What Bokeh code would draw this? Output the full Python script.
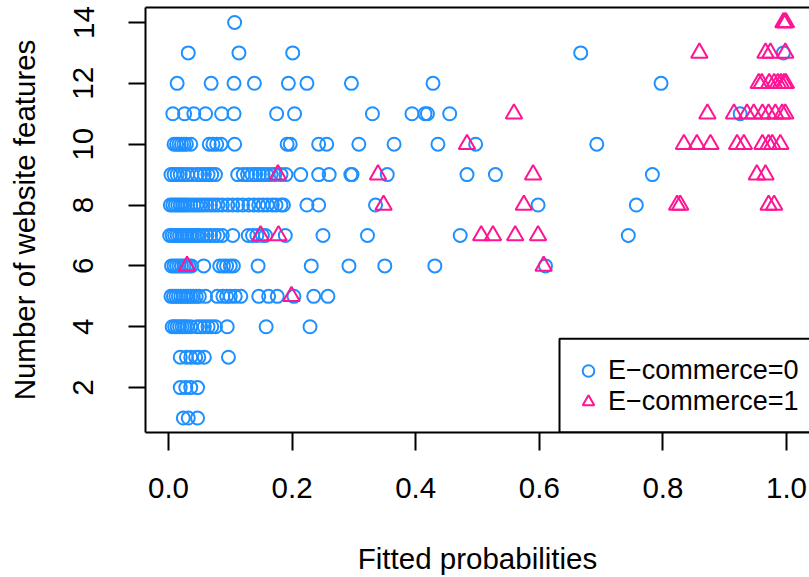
import math
from bokeh.plotting import figure
from bokeh.models import (Range1d, LinearAxis, FixedTicker, PrintfTickFormatter,
                          Legend, LegendItem, BoxAnnotation)
from bokeh.embed import file_html
from bokeh.resources import INLINE

# ---------------- data: fitted probability of websites, by number of features ----------------
# E-commerce = 0  (circles)
ecom0_f14 = [0.107]
ecom0_f13 = [0.032, 0.114, 0.201, 0.667, 0.995]
ecom0_f12 = [0.014, 0.069, 0.106, 0.139, 0.194, 0.224, 0.296, 0.428, 0.797]
ecom0_f11 = [0.007, 0.026, 0.041, 0.060, 0.086, 0.106, 0.175, 0.204, 0.330, 0.394,
             0.415, 0.419, 0.455, 0.925]
ecom0_f10 = [0.009, 0.013, 0.017, 0.021, 0.025, 0.029, 0.036, 0.066, 0.072, 0.078,
             0.085, 0.107, 0.192, 0.197, 0.243, 0.256, 0.308, 0.365, 0.436, 0.497, 0.693]
ecom0_f9 = [0.004, 0.009, 0.014, 0.019, 0.025, 0.031, 0.038, 0.046, 0.052, 0.058,
            0.064, 0.070, 0.076, 0.112, 0.121, 0.128, 0.135, 0.141, 0.147, 0.153,
            0.159, 0.166, 0.172, 0.182, 0.190, 0.214, 0.243, 0.260, 0.295, 0.297,
            0.354, 0.483, 0.529, 0.783]
ecom0_f8 = [0.003, 0.007, 0.011, 0.015, 0.019, 0.023, 0.027, 0.031, 0.036, 0.041,
            0.046, 0.051, 0.056, 0.062, 0.068, 0.074, 0.080, 0.087, 0.096, 0.104,
            0.112, 0.120, 0.130, 0.138, 0.146, 0.153, 0.160, 0.168, 0.174, 0.182,
            0.186, 0.224, 0.243, 0.335, 0.598, 0.757]
ecom0_f7 = [0.002, 0.006, 0.010, 0.014, 0.018, 0.022, 0.026, 0.030, 0.034, 0.038,
            0.042, 0.046, 0.050, 0.056, 0.062, 0.068, 0.074, 0.080, 0.087, 0.104,
            0.129, 0.136, 0.143, 0.152, 0.157, 0.189, 0.250, 0.322, 0.472, 0.744]
ecom0_f6 = [0.005, 0.009, 0.013, 0.017, 0.021, 0.025, 0.029, 0.033, 0.037, 0.057,
            0.083, 0.089, 0.094, 0.100, 0.105, 0.145, 0.231, 0.292, 0.350, 0.431, 0.610]
ecom0_f5 = [0.004, 0.008, 0.012, 0.016, 0.020, 0.024, 0.028, 0.032, 0.036, 0.040,
            0.045, 0.050, 0.060, 0.079, 0.088, 0.094, 0.100, 0.108, 0.117, 0.146,
            0.162, 0.176, 0.203, 0.235, 0.258]
ecom0_f4 = [0.006, 0.010, 0.014, 0.018, 0.022, 0.026, 0.030, 0.036, 0.046, 0.052,
            0.058, 0.064, 0.070, 0.076, 0.095, 0.158, 0.229]
ecom0_f3 = [0.019, 0.029, 0.036, 0.044, 0.049, 0.058, 0.097]
ecom0_f2 = [0.019, 0.028, 0.036, 0.047]
ecom0_f1 = [0.024, 0.032, 0.047]

# E-commerce = 1  (triangles)
ecom1_f14 = [0.995, 0.997, 0.999]
ecom1_f13 = [0.859, 0.966, 0.974, 0.998]
ecom1_f12 = [0.955, 0.960, 0.972, 0.980, 0.986, 0.991, 0.996, 0.999]
ecom1_f11 = [0.559, 0.872, 0.915, 0.936, 0.947, 0.961, 0.971, 0.982, 0.993, 0.998]
ecom1_f10 = [0.483, 0.834, 0.855, 0.877, 0.920, 0.931, 0.961, 0.971, 0.977, 0.990]
ecom1_f9 = [0.177, 0.339, 0.590, 0.952, 0.966]
ecom1_f8 = [0.348, 0.575, 0.823, 0.828, 0.971, 0.980]
ecom1_f7 = [0.149, 0.178, 0.506, 0.525, 0.561, 0.598]
ecom1_f6 = [0.030, 0.607]
ecom1_f5 = [0.199]

feature_counts = [14, 13, 12, 11, 10, 9, 8, 7, 6, 5, 4, 3, 2, 1]
ecom0_rows = [ecom0_f14, ecom0_f13, ecom0_f12, ecom0_f11, ecom0_f10, ecom0_f9, ecom0_f8,
              ecom0_f7, ecom0_f6, ecom0_f5, ecom0_f4, ecom0_f3, ecom0_f2, ecom0_f1]
ecom1_rows = [ecom1_f14, ecom1_f13, ecom1_f12, ecom1_f11, ecom1_f10, ecom1_f9, ecom1_f8,
              ecom1_f7, ecom1_f6, ecom1_f5, [], [], [], []]

x_ticks = [0.0, 0.2, 0.4, 0.6, 0.8, 1.0]
y_ticks = [2, 4, 6, 8, 10, 12, 14]
legend_labels = ["E\u2212commerce=0", "E\u2212commerce=1"]
x_title = "Fitted probabilities"
y_title = "Number of website features"


def flatten(rows):
    xs, ys = [], []
    for f, row in zip(feature_counts, rows):
        for v in row:
            xs.append(v)
            ys.append(f)
    return xs, ys


x0, y0 = flatten(ecom0_rows)
x1, y1 = flatten(ecom1_rows)

BLUE = "#1E90FF"
PINK = "#FF1493"
FONT = "Liberation Sans"
AXIS_FS = "29.5px"
LEGEND_FS = "27px"

X_START, X_END = -0.0372, 1.0372
Y_START, Y_END = 0.525, 14.492

p = figure(width=809, height=577, output_backend="svg", toolbar_location=None,
           x_range=Range1d(X_START, X_END), y_range=Range1d(Y_START, Y_END),
           min_border_left=145, min_border_right=0, min_border_top=7, min_border_bottom=144,
           x_axis_location=None, y_axis_location=None)
p.outline_line_color = None
p.xgrid.visible = False
p.ygrid.visible = False
p.background_fill_color = "white"
p.border_fill_color = "white"

r0 = p.scatter(x0, y0, marker="circle", size=13, fill_color=None,
               line_color=BLUE, line_width=2)
r1 = p.scatter(x1, y1, marker="triangle", size=16.5, fill_color=None,
               line_color=PINK, line_width=2)


def style_axis(ax):
    ax.axis_line_color = "black"
    ax.axis_line_width = 2
    ax.major_tick_line_color = "black"
    ax.major_tick_line_width = 2
    ax.major_tick_in = 0
    ax.major_tick_out = 18
    ax.minor_tick_line_color = None
    ax.major_label_text_font = FONT
    ax.major_label_text_font_size = AXIS_FS
    ax.major_label_text_color = "black"
    ax.axis_label_text_font = FONT
    ax.axis_label_text_font_size = AXIS_FS
    ax.axis_label_text_font_style = "normal"
    ax.axis_label_text_color = "black"


xaxis = LinearAxis(ticker=FixedTicker(ticks=x_ticks),
                   formatter=PrintfTickFormatter(format="%.1f"),
                   axis_label=x_title)
style_axis(xaxis)
xaxis.major_label_standoff = 27
xaxis.axis_label_standoff = 41
p.add_layout(xaxis, "below")

yaxis = LinearAxis(ticker=FixedTicker(ticks=y_ticks), axis_label=y_title)
style_axis(yaxis)
yaxis.major_tick_out = 17
yaxis.major_label_orientation = "vertical"
yaxis.major_label_standoff = 35
yaxis.axis_label_standoff = 30
p.add_layout(yaxis, "left")

# top frame line (the right side of the box lies beyond the picture)
topaxis = LinearAxis(ticker=FixedTicker(ticks=[]))
topaxis.axis_line_color = "black"
topaxis.axis_line_width = 2
topaxis.major_tick_line_color = None
topaxis.minor_tick_line_color = None
topaxis.major_label_text_font_size = "0px"
topaxis.major_label_standoff = 0
topaxis.major_tick_out = 0
topaxis.major_tick_in = 0
topaxis.axis_label_standoff = 0
p.add_layout(topaxis, "above")

# legend entries (no border: the frame is drawn separately so it can run off the picture)
legend = Legend(items=[LegendItem(label=legend_labels[0], renderers=[r0]),
                       LegendItem(label=legend_labels[1], renderers=[r1])],
                location=(428, 15), margin=0, padding=0, spacing=0,
                glyph_width=30, glyph_height=29, label_standoff=5,
                label_text_font=FONT, label_text_font_size=LEGEND_FS,
                label_text_color="black", border_line_color=None,
                background_fill_color="white", background_fill_alpha=1.0)
p.add_layout(legend, "center")

# legend frame: bottom-right placement, like R's legend("bottomright")
legend_frame = BoxAnnotation(left=0.6327, right=X_END + 0.2, bottom=Y_START, top=3.607,
                             fill_color=None, fill_alpha=0, line_color="black",
                             line_width=2, line_alpha=1.0)
p.add_layout(legend_frame)

open("out.html", "w").write(file_html(p, INLINE))
